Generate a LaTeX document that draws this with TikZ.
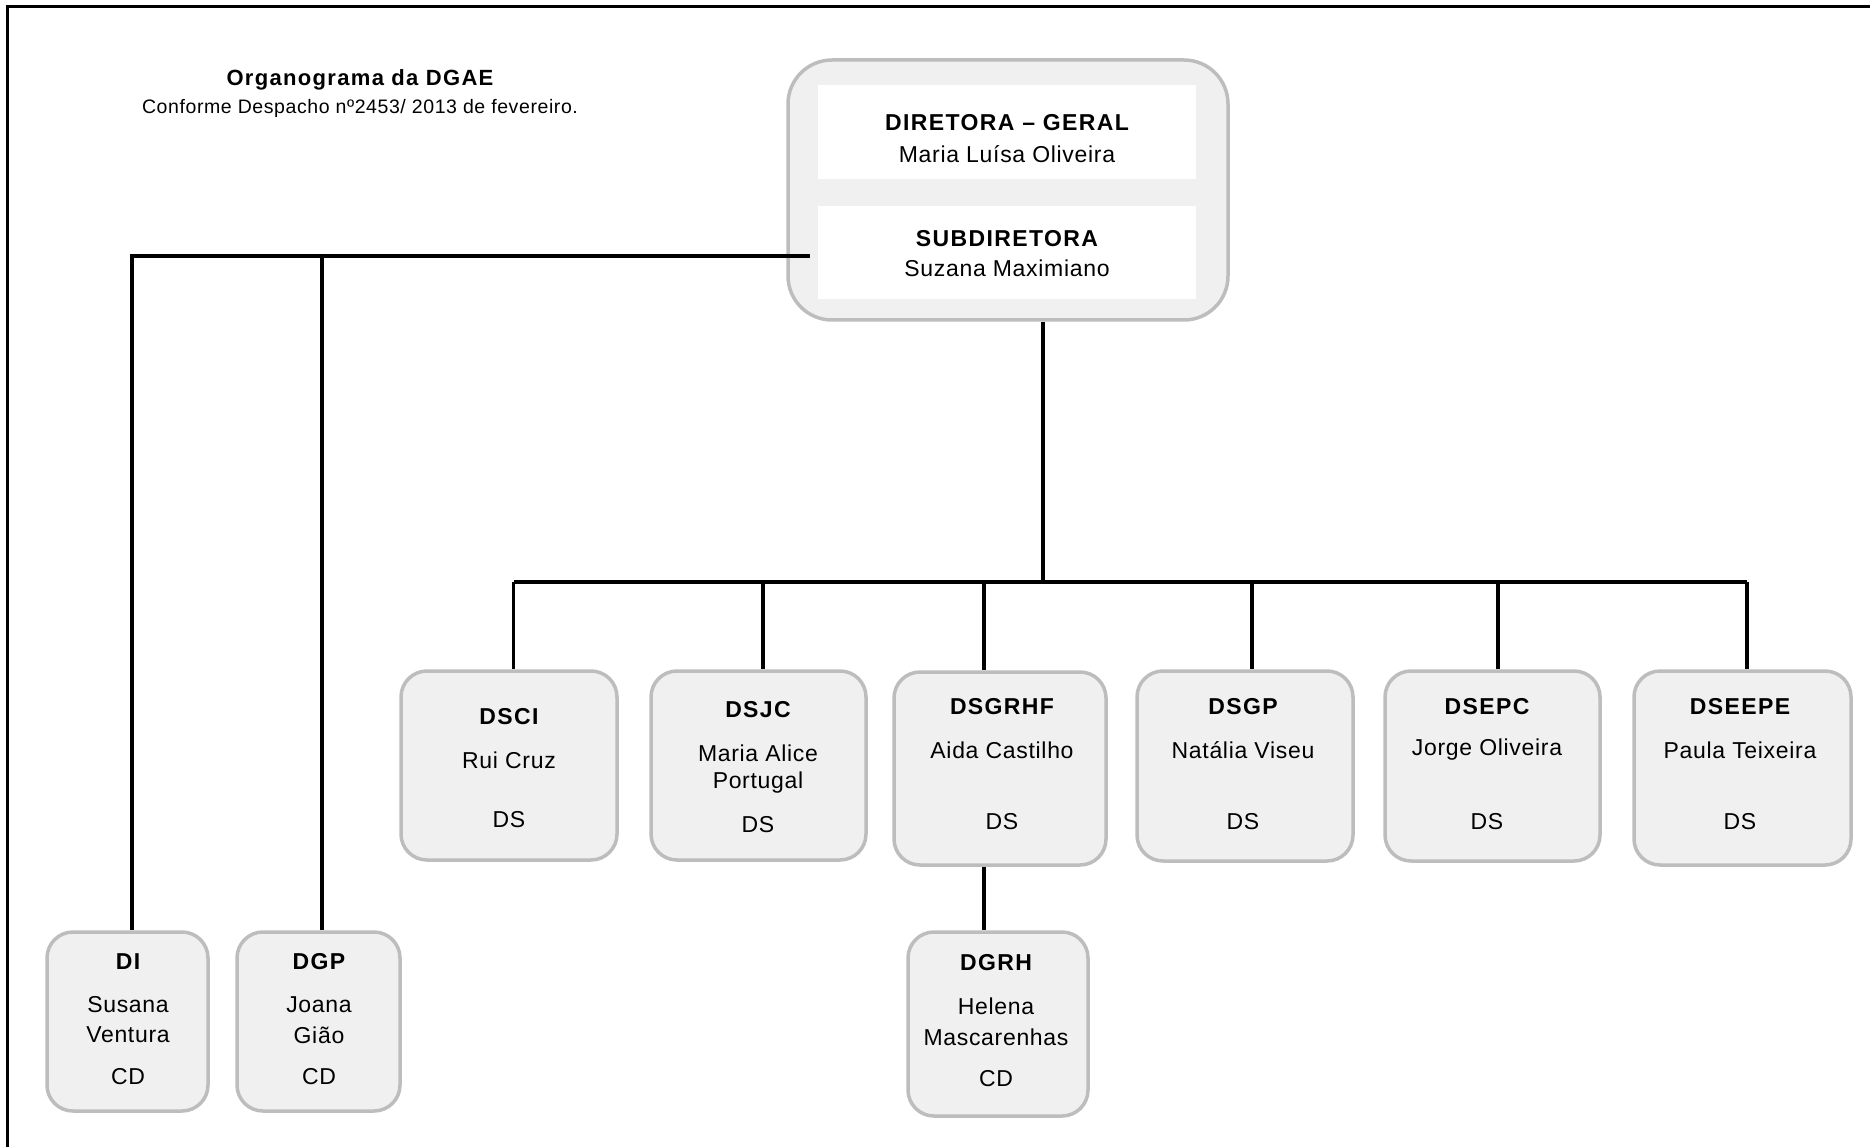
\documentclass[tikz,border=0pt]{standalone}
\usepackage{fontspec}
\setmainfont{Liberation Sans}[LetterSpace=3]
\newfontfamily\ttlfont{Liberation Sans}[LetterSpace=6]
\definecolor{boxfill}{HTML}{F0F0F0}
\definecolor{boxline}{HTML}{BDBDBD}
\begin{document}
\begin{tikzpicture}[x=1pt,y=-1pt,
  ubox/.style={draw=boxline, fill=boxfill, line width=3.5pt, rounded corners=26pt, inner sep=0pt},
  topbox/.style={draw=boxline, fill=boxfill, line width=3.5pt, rounded corners=44pt, inner sep=0pt},
  inbox/.style={fill=white, draw=none, inner sep=0pt},
  conn/.style={line width=3.5pt, black},
  frame/.style={line width=3pt, black},
  ttl/.style={inner sep=0pt, font=\ttlfont\bfseries\fontsize{23}{27}\selectfont},
  nm/.style={inner sep=0pt, font=\fontsize{23}{27}\selectfont}]
\useasboundingbox (0,0) rectangle (1870,1147);
\fill[white] (0,0) rectangle (1870,1147);
% frame (top and left edges only)
\coordinate (fr-tr) at (1870,7);
\coordinate (fr-tl) at (7,7);
\coordinate (fr-bl) at (7,1147);
\draw[frame] (fr-tr) -- (fr-tl) -- (fr-bl);
% heading
\node (head) [inner sep=0pt, font=\ttlfont\bfseries\fontsize{22}{26}\selectfont] at (360,80) {Organograma da DGAE};
\node (subhead) [inner sep=0pt, font=\fontsize{19.5}{23}\selectfont] at (360,108) {Conforme Despacho nº2453/ 2013 de fevereiro.};
% top box
\node (top) [topbox, minimum width=440pt, minimum height=260pt] at (1008,190) {};
\node (in1) [inbox, minimum width=378pt, minimum height=94pt] at (1007,132) {};
\node (in2) [inbox, minimum width=378pt, minimum height=93pt] at (1007,252.5) {};
\node (dg) [ttl] at (1007,123) {DIRETORA – GERAL};
\node (dgn) [nm] at (1007,154) {Maria Luísa Oliveira};
\node (sd) [ttl] at (1007,239) {SUBDIRETORA};
\node (sdn) [nm] at (1007,268) {Suzana Maximiano};
% DS boxes
\node (dsci) [ubox, minimum width=216pt, minimum height=189pt] at (509,765.5) {};
\node (dsjc) [ubox, minimum width=215pt, minimum height=189pt] at (758.5,765.5) {};
\node (dsgrhf) [ubox, minimum width=212pt, minimum height=193pt] at (1000,768.5) {};
\node (dsgp) [ubox, minimum width=216pt, minimum height=190pt] at (1245,766) {};
\node (dsepc) [ubox, minimum width=215pt, minimum height=190pt] at (1492.5,766) {};
\node (dseepe) [ubox, minimum width=217pt, minimum height=194pt] at (1742.5,768) {};
% CD boxes
\node (di) [ubox, minimum width=161pt, minimum height=179pt] at (127.5,1021.5) {};
\node (dgp) [ubox, minimum width=163pt, minimum height=179pt] at (318.5,1021.5) {};
\node (dgrh) [ubox, minimum width=180pt, minimum height=184pt] at (998,1024) {};
% texts DS
\node (t-dsci) [ttl] at (509,717) {DSCI};
\node (n-dsci) [nm] at (509,760) {Rui Cruz};
\node (c-dsci) [nm] at (509,820) {DS};
\node (t-dsjc) [ttl] at (758,710) {DSJC};
\node (n-dsjc1) [nm] at (758,753) {Maria Alice};
\node (n-dsjc2) [nm] at (758,783) {Portugal};
\node (c-dsjc) [nm] at (758,825) {DS};
\node (t-dsgrhf) [ttl] at (1002,707) {DSGRHF};
\node (n-dsgrhf) [nm] at (1002,750) {Aida Castilho};
\node (c-dsgrhf) [nm] at (1002,822) {DS};
\node (t-dsgp) [ttl] at (1243,707) {DSGP};
\node (n-dsgp) [nm] at (1243,750) {Natália Viseu};
\node (c-dsgp) [nm] at (1243,822) {DS};
\node (t-dsepc) [ttl] at (1487,707) {DSEPC};
\node (n-dsepc) [nm] at (1487,750) {Jorge Oliveira};
\node (c-dsepc) [nm] at (1487,822) {DS};
\node (t-dseepe) [ttl] at (1740,707) {DSEEPE};
\node (n-dseepe) [nm] at (1740,750) {Paula Teixeira};
\node (c-dseepe) [nm] at (1740,822) {DS};
% texts CD
\node (t-di) [ttl] at (128,962) {DI};
\node (n-di1) [nm] at (128,1005) {Susana};
\node (n-di2) [nm] at (128,1035) {Ventura};
\node (c-di) [nm] at (128,1077) {CD};
\node (t-dgp) [ttl] at (319,962) {DGP};
\node (n-dgp1) [nm] at (319,1005) {Joana};
\node (n-dgp2) [nm] at (319,1035) {Gião};
\node (c-dgp) [nm] at (319,1077) {CD};
\node (t-dgrh) [ttl] at (996,963) {DGRH};
\node (n-dgrh1) [nm] at (996,1006) {Helena};
\node (n-dgrh2) [nm] at (996,1037) {Mascarenhas};
\node (c-dgrh) [nm] at (996,1079) {CD};
% connectors
\coordinate (sdleft) at (810,256);
\coordinate (lbus) at (132,256);
\coordinate (bus) at (1043,582);
\draw[conn] (sdleft) -- (lbus) -- ([xshift=4.5pt]di.north);
\draw[conn] ([xshift=3.5pt]dgp.north |- lbus) -- ([xshift=3.5pt]dgp.north);
\draw[conn] (top.south -| bus) -- (bus);
\draw[conn] ([xshift=4.5pt]dsci.north |- bus) -- ([xshift=4.5pt]dseepe.north |- bus);
\foreach \n/\dx in {dsci/4.5, dsjc/4.5, dsgrhf/-16, dsgp/7, dsepc/5.5, dseepe/4.5}
  \draw[conn] ([xshift=\dx pt]\n.north |- bus) -- ([xshift=\dx pt]\n.north);
\draw[conn] ([xshift=-16pt]dsgrhf.south) -- ([xshift=-14pt]dgrh.north);
\end{tikzpicture}
\end{document}
